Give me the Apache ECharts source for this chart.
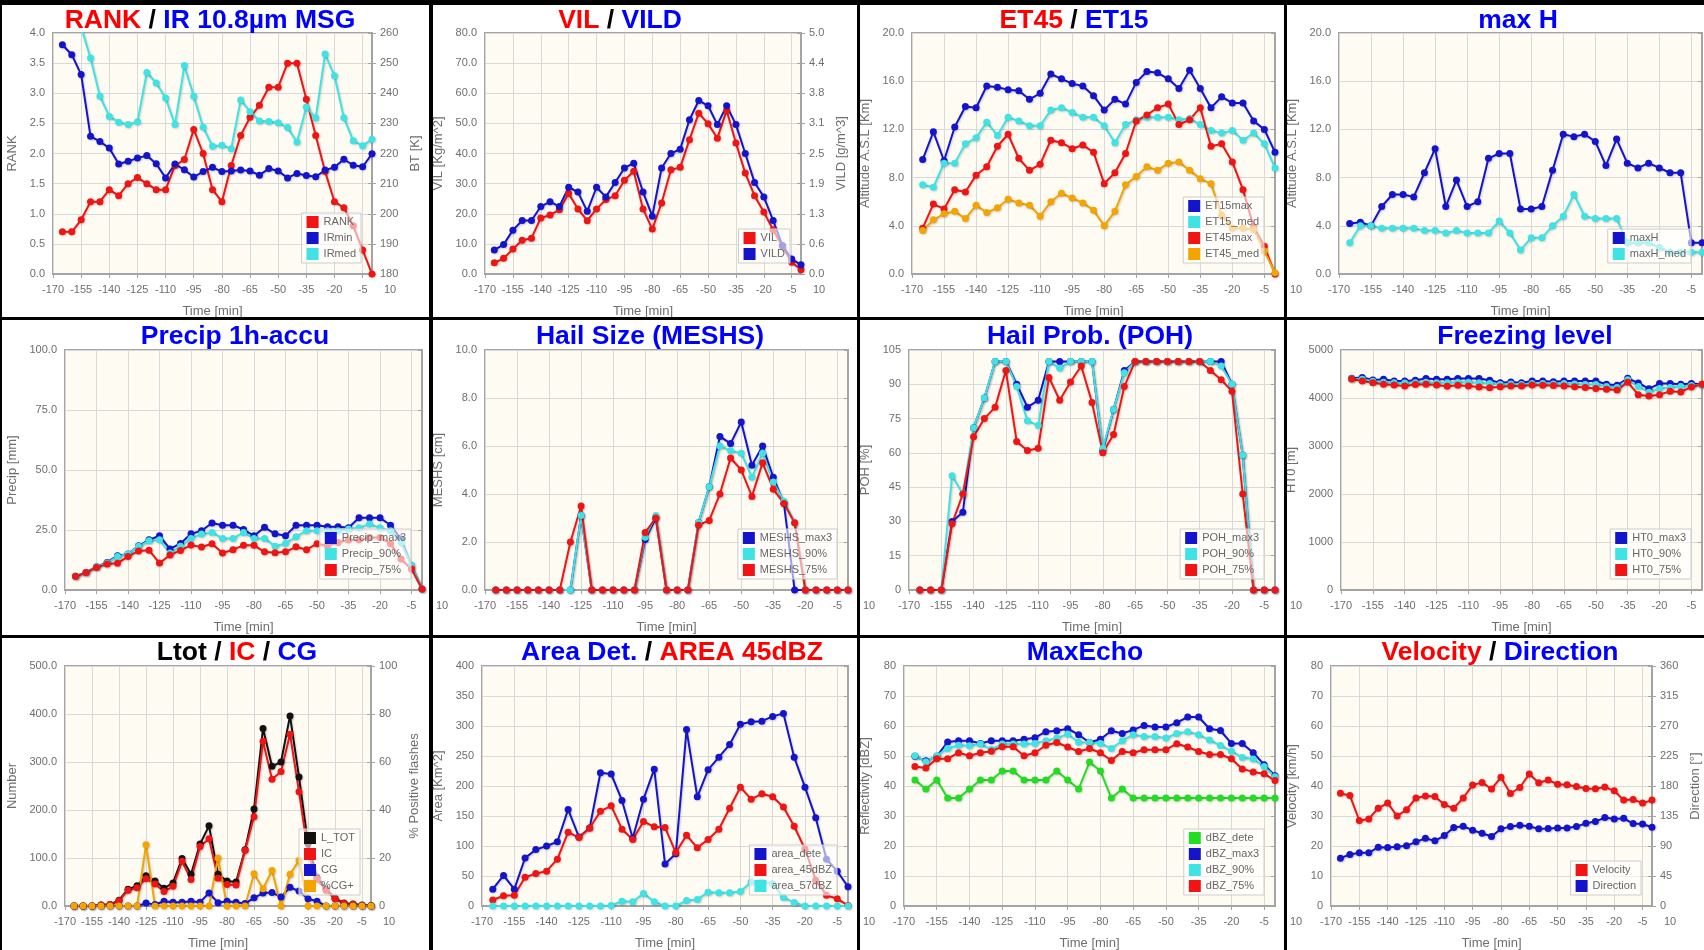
<!DOCTYPE html>
<html>
<head>
<meta charset="utf-8">
<script src="https://cdn.jsdelivr.net/npm/echarts@6/dist/echarts.min.js"></script>
<style>
  html, body { margin: 0; padding: 0; width: 1704px; height: 950px; overflow: hidden; background: #000; }
  .panel { position: absolute; background: #fff; }
</style>
</head>
<body>
<script>
// time axis (minutes before now), one sample every 5 min
const TIMES = [-165, -160, -155, -150, -145, -140, -135, -130, -125, -120, -115, -110, -105, -100, -95, -90, -85,
  -80, -75, -70, -65, -60, -55, -50, -45, -40, -35, -30, -25, -20, -15, -10, -5, 0];

// RANK / IR 10.8
const RANK = [0.7, 0.7, 0.9, 1.2, 1.2, 1.4, 1.3, 1.5, 1.6, 1.5, 1.4, 1.4, 1.8, 1.9, 2.4, 2.0, 1.4, 1.2, 1.8, 2.3, 2.6, 2.8, 3.1, 3.1, 3.5, 3.5, 2.9, 2.3, 1.7, 1.2, 1.1, 0.8, 0.4, 0.0];
const IR_MIN = [256.1, 252.8, 246.2, 225.7, 224.0, 221.8, 216.5, 217.4, 218.5, 219.3, 216.6, 211.9, 216.5, 214.6, 212.2, 214.0, 215.4, 214.0, 214.2, 214.5, 214.2, 212.8, 215.0, 214.2, 211.9, 213.4, 212.7, 212.3, 214.5, 215.4, 218.1, 216.1, 215.6, 219.9];
const IR_MED = [268, 265, 262, 251.7, 239.0, 232.3, 230.4, 229.6, 230.5, 246.9, 243.4, 238.4, 229.6, 249.2, 239.0, 228.7, 222.4, 222.7, 221.6, 237.8, 233.9, 230.8, 230.6, 230.2, 228.6, 223.8, 235.4, 231.8, 253.0, 245.8, 231.9, 224.2, 222.6, 224.7];

// VIL / VILD
const VIL = [3.7, 5.2, 8.3, 11.2, 11.9, 18.6, 19.6, 21.3, 26.7, 21.6, 17.7, 21.6, 24.7, 26.0, 31.1, 34.1, 21.6, 14.9, 23.6, 34.6, 35.4, 44.6, 53.4, 49.9, 45.1, 54.3, 43.5, 33.5, 26.0, 20.6, 14.7, 9.2, 3.9, 1.4];
const VILD = [0.50, 0.61, 0.91, 1.11, 1.11, 1.40, 1.50, 1.40, 1.80, 1.70, 1.30, 1.80, 1.60, 1.90, 2.20, 2.30, 1.70, 1.20, 2.20, 2.50, 2.59, 3.20, 3.60, 3.49, 3.10, 3.49, 3.10, 2.50, 1.90, 1.60, 1.11, 0.59, 0.31, 0.19];

// echo tops
const ET15_MAX = [9.5, 11.8, 9.4, 12.2, 13.9, 13.8, 15.6, 15.5, 15.3, 15.2, 14.5, 15.0, 16.6, 16.2, 15.8, 15.6, 14.8, 13.6, 14.5, 14.1, 15.9, 16.8, 16.7, 16.2, 15.4, 16.9, 15.4, 13.8, 14.7, 14.2, 14.2, 12.7, 12.0, 10.1];
const ET15_MED = [7.4, 7.2, 9.2, 9.2, 10.8, 11.3, 12.6, 11.5, 13.0, 12.7, 12.3, 12.3, 13.6, 13.8, 13.4, 13.0, 13.0, 12.3, 10.9, 12.4, 12.8, 13.0, 13.0, 13.0, 12.8, 12.9, 12.4, 11.9, 11.7, 11.9, 11.1, 11.7, 10.8, 8.8];
const ET45_MAX = [3.8, 5.8, 5.4, 7.0, 6.8, 8.2, 8.9, 10.6, 11.6, 9.6, 8.6, 9.1, 11.1, 10.9, 10.4, 10.7, 10.1, 7.5, 8.4, 10.0, 12.7, 13.2, 13.8, 14.1, 12.4, 12.8, 13.8, 10.6, 10.8, 9.3, 7.0, 3.9, 2.3, 0.0];
const ET45_MED = [3.6, 4.5, 5.0, 5.2, 4.6, 5.7, 5.1, 5.5, 6.2, 5.9, 5.7, 4.8, 6.0, 6.7, 6.3, 5.9, 5.3, 4.0, 5.2, 7.4, 8.1, 8.9, 8.6, 9.2, 9.3, 8.6, 7.9, 7.5, 4.9, 3.8, 3.8, 3.7, 1.9, 0.1];

// max H
const MAXH = [4.2, 4.3, 4.0, 5.6, 6.6, 6.6, 6.4, 8.4, 10.4, 5.6, 7.8, 5.6, 6.0, 9.6, 10.0, 10.0, 5.4, 5.4, 5.6, 8.6, 11.6, 11.4, 11.6, 11.0, 9.0, 11.2, 9.2, 8.8, 9.2, 8.8, 8.4, 8.4, 2.6, 2.6];
const MAXH_MED = [2.6, 4.0, 4.0, 3.8, 3.8, 3.8, 3.8, 3.6, 3.6, 3.4, 3.6, 3.4, 3.4, 3.4, 4.4, 3.4, 2.0, 3.0, 3.0, 4.0, 4.8, 6.6, 4.8, 4.6, 4.6, 4.6, 2.6, 2.6, 2.6, 2.2, 1.8, 1.8, 1.8, 1.8];

// precip 1h
const PRECIP_MAX3 = [5.7, 7.3, 9.7, 11.5, 14.3, 15.0, 18.4, 20.9, 22.6, 17.1, 19.4, 23.4, 24.7, 27.9, 27.0, 27.0, 25.2, 22.6, 26.1, 23.4, 22.6, 27.0, 27.0, 27.0, 26.4, 26.4, 25.9, 30.1, 30.1, 30.1, 27.0, 21.2, 10.1, 0.4];
const PRECIP_90 = [5.7, 7.3, 9.7, 11.2, 14.0, 15.0, 18.2, 20.5, 20.9, 15.4, 18.2, 21.5, 23.3, 24.0, 21.5, 21.5, 24.0, 21.5, 21.5, 18.2, 19.4, 22.2, 24.7, 24.7, 24.7, 24.7, 25.4, 25.9, 27.5, 25.9, 24.7, 19.8, 10.1, 0.4];
const PRECIP_75 = [5.7, 7.3, 9.4, 10.8, 11.1, 14.0, 16.2, 16.6, 11.2, 14.6, 16.5, 18.7, 17.9, 19.3, 15.4, 16.8, 18.6, 18.6, 15.9, 15.5, 15.9, 18.0, 16.8, 19.3, 18.4, 19.8, 20.8, 20.9, 21.9, 21.9, 19.3, 12.9, 8.7, 0.4];

// hail size
const MESHS_MAX3 = [0, 0, 0, 0, 0, 0, 0, 0, 3.1, 0, 0, 0, 0, 0, 2.1, 3.0, 0, 0, 0, 2.8, 4.3, 6.4, 6.1, 7.0, 5.2, 6.0, 4.7, 3.6, 0, 0, 0, 0, 0, 0];
const MESHS_90 = [0, 0, 0, 0, 0, 0, 0, 0, 3.1, 0, 0, 0, 0, 0, 2.2, 3.1, 0, 0, 0, 2.8, 4.3, 6.0, 5.8, 5.7, 4.7, 5.7, 4.5, 3.7, 2.8, 0, 0, 0, 0, 0];
const MESHS_75 = [0, 0, 0, 0, 0, 0, 0, 2.0, 3.5, 0, 0, 0, 0, 0, 2.4, 3.0, 0, 0, 0, 2.7, 2.9, 4.0, 5.5, 5.0, 3.9, 5.3, 4.2, 3.6, 2.8, 0, 0, 0, 0, 0];

// hail probability
const POH_MAX3 = [0, 0, 0, 30, 34, 71, 84, 100, 100, 90, 80, 83, 100, 100, 100, 100, 100, 61, 79, 96, 100, 100, 100, 100, 100, 100, 100, 100, 100, 90, 59, 0, 0, 0];
const POH_90 = [0, 0, 0, 50, 42, 71, 84, 100, 100, 89, 74, 72, 100, 97, 100, 100, 100, 62, 79, 95, 100, 100, 100, 100, 100, 100, 100, 100, 98, 90, 59, 0, 0, 0];
const POH_75 = [0, 0, 0, 29, 42, 67, 75, 80, 96, 65, 61, 62, 93, 83, 91, 98, 82, 60, 68, 89, 100, 100, 100, 100, 100, 100, 100, 96, 92, 87, 42, 0, 0, 0];

// freezing level
const HT0_MAX3 = [4410, 4425, 4375, 4390, 4355, 4355, 4370, 4405, 4390, 4390, 4405, 4405, 4405, 4370, 4320, 4335, 4320, 4355, 4355, 4340, 4355, 4355, 4355, 4355, 4285, 4265, 4410, 4315, 4195, 4300, 4300, 4285, 4300, 4285];
const HT0_90 = [4400, 4390, 4350, 4330, 4320, 4310, 4320, 4330, 4320, 4320, 4330, 4330, 4320, 4300, 4280, 4290, 4280, 4300, 4300, 4290, 4300, 4290, 4280, 4280, 4240, 4220, 4380, 4240, 4120, 4200, 4220, 4240, 4260, 4270];
const HT0_75 = [4395, 4355, 4320, 4285, 4270, 4250, 4280, 4285, 4270, 4245, 4265, 4250, 4230, 4215, 4235, 4250, 4250, 4270, 4265, 4260, 4250, 4235, 4220, 4200, 4180, 4165, 4330, 4070, 4040, 4070, 4140, 4125, 4230, 4285];

// lightning
const L_TOT = [0, 0, 0, 2, 3, 12, 35, 42, 63, 52, 37, 48, 99, 66, 129, 167, 66, 52, 50, 117, 202, 370, 291, 300, 396, 269, 130, 60, 35, 16, 6, 4, 2, 1];
const IC = [0, 0, 0, 2, 3, 11, 33, 38, 57, 46, 30, 41, 93, 55, 124, 140, 58, 45, 44, 116, 186, 343, 264, 280, 358, 238, 110, 55, 33, 15, 5, 3, 1, 0];
const CG = [0, 0, 0, 0, 0, 0, 0, 0, 6, 3, 10, 8, 8, 10, 8, 27, 7, 10, 8, 5, 17, 27, 28, 19, 39, 31, 15, 10, 0, 0, 0, 0, 0, 0];
const PCT_CG_POS = [0, 0, 0, 0, 0, 0, 0, 0, 25.5, 0, 0, 0, 0, 0, 0, 0, 20, 0, 0, 0, 13.4, 7.2, 14.8, 0, 13.2, 19, 0, 0, 0, 0, 0, 0, 0, 0];

// areas
const AREA_DETE = [28, 51, 28, 80, 94, 100, 107, 161, 115, 130, 222, 220, 176, 113, 178, 228, 70, 87, 294, 182, 227, 248, 269, 303, 307, 308, 316, 321, 248, 198, 147, 78, 58, 32];
const AREA_45 = [10, 17, 18, 48, 54, 58, 78, 123, 114, 130, 158, 167, 128, 111, 141, 132, 131, 89, 118, 97, 111, 128, 163, 198, 178, 187, 182, 165, 133, 95, 43, 18, 12, 1];
const AREA_57 = [0, 0, 0, 0, 0, 0, 0, 0, 0, 0, 0, 1, 8, 7, 21, 7, 0, 0, 9, 11, 23, 22, 22, 24, 40, 40, 37, 14, 6, 0, 0, 0, 0, 0];

// max echo
const DBZ_DETE = [42, 39, 42, 36, 36, 39, 42, 42, 45, 45, 42, 42, 42, 45, 42, 39, 48, 45, 36, 39, 36, 36, 36, 36, 36, 36, 36, 36, 36, 36, 36, 36, 36, 36];
const DBZ_MAX3 = [49.9, 48.4, 49.9, 54.7, 55.1, 55.1, 54.2, 55.1, 55.1, 55.1, 55.6, 56.1, 58.1, 58.4, 59.1, 57.1, 54.5, 55.6, 58.4, 57.5, 58.7, 60.2, 59.7, 59.7, 61.1, 63.0, 63.0, 59.1, 58.5, 54.2, 54.2, 51.1, 47.1, 43.4];
const DBZ_90 = [50.1, 48.1, 50.1, 52.5, 53.6, 53.4, 54.0, 52.2, 54.0, 54.0, 54.0, 54.2, 55.1, 56.0, 57.3, 54.6, 54.5, 54.2, 52.5, 55.1, 57.1, 56.5, 56.5, 56.0, 57.5, 58.1, 57.1, 55.3, 53.5, 51.6, 49.5, 49.0, 46.5, 43.1];
const DBZ_75 = [46.5, 46.0, 49.1, 49.1, 51.1, 50.1, 51.1, 51.6, 53.1, 53.1, 50.1, 51.1, 53.6, 54.5, 53.0, 51.5, 52.5, 51.1, 48.5, 51.5, 51.1, 52.1, 52.1, 52.1, 54.1, 53.0, 51.5, 50.5, 50.5, 49.1, 45.7, 44.7, 44.1, 41.8];

// motion
const VELOCITY = [37.6, 36.8, 28.5, 29.0, 32.6, 34.3, 30.0, 32.1, 36.0, 36.7, 36.5, 33.8, 32.6, 36.0, 40.3, 41.2, 39.0, 42.9, 37.5, 39.5, 44.0, 41.1, 42.0, 40.6, 40.4, 39.8, 39.2, 39.1, 39.7, 38.4, 35.3, 35.5, 34.3, 35.3];
const DIRECTION = [71.8, 77.3, 79.8, 79.8, 88.2, 87.7, 88.7, 90.2, 96.2, 101.7, 97.7, 105.7, 117.6, 119.6, 113.7, 109.2, 104.2, 115.7, 119.1, 121.1, 119.6, 115.7, 116.2, 117.1, 117.1, 119.1, 124.1, 126.6, 132.6, 130.6, 131.6, 123.6, 123.1, 118.1];

const FONT = '"Liberation Sans", Arial, sans-serif';
const RED = '#f01414';
const BLUE = '#1414cc';
const CYAN = '#3fe3e3';
const ORANGE = '#f4a400';
const GREEN = '#22dd22';
const BLACK = '#111111';
const T_RED = '#ff0000';
const T_BLUE = '#0000ff';
const T_BLACK = '#000000';
const LABEL = '#6e6e6e';
const PLOT_BG = '#fefcf2';
const AXIS = '#a4a4a4';

// panel boxes on the page
const COLS = [{ x: 2, w: 427 }, { x: 433, w: 424 }, { x: 860, w: 424 }, { x: 1287, w: 417 }];
const ROWS = [
  { y: 5, h: 312, top: 28, bottom: 43, titleTop: 2 },
  { y: 320, h: 315, top: 30, bottom: 45, titleTop: 3 },
  { y: 638, h: 312, top: 28, bottom: 44, titleTop: 1 },
];

const PANELS = [
  {
    row: 0, col: 0, left: 51, right: 57, titleX: 208,
    title: [['RANK', T_RED], [' / ', T_BLACK], ['IR 10.8µm MSG', T_BLUE]],
    y: { min: 0, max: 4, step: 0.5, dec: 1, name: 'RANK', gap: 34 },
    y2: { min: 180, max: 260, step: 10, dec: 0, name: 'BT [K]', gap: 34 },
    ten: ['right'],
    series: [
      { name: 'RANK', data: RANK, color: RED },
      { name: 'IRmin', data: IR_MIN, color: BLUE, right: true },
      { name: 'IRmed', data: IR_MED, color: CYAN, right: true },
    ],
  },
  {
    row: 0, col: 1, left: 52, right: 56, titleX: 187,
    title: [['VIL', T_RED], [' / ', T_BLACK], ['VILD', T_BLUE]],
    y: { min: 0, max: 80, step: 10, dec: 1, name: 'VIL [Kg/m^2]', gap: 39 },
    y2: { min: 0, max: 5, step: 0.625, dec: 1, name: 'VILD [g/m^3]', gap: 33 },
    ten: ['right'],
    series: [
      { name: 'VIL', data: VIL, color: RED },
      { name: 'VILD', data: VILD, color: BLUE, right: true },
    ],
  },
  {
    row: 0, col: 2, left: 52, right: 9, titleX: 214,
    title: [['ET45', T_RED], [' / ', T_BLACK], ['ET15', T_BLUE]],
    y: { min: 0, max: 20, step: 4, dec: 1, name: 'Altitude A.S.L [Km]', gap: 39 },
    ten: [],
    series: [
      { name: 'ET15max', data: ET15_MAX, color: BLUE },
      { name: 'ET15_med', data: ET15_MED, color: CYAN },
      { name: 'ET45max', data: ET45_MAX, color: RED },
      { name: 'ET45_med', data: ET45_MED, color: ORANGE },
    ],
  },
  {
    row: 0, col: 3, left: 52, right: 2, titleX: 231,
    title: [['max H', T_BLUE]],
    y: { min: 0, max: 20, step: 4, dec: 1, name: 'Altitude A.S.L [Km]', gap: 39 },
    ten: ['left'],
    series: [
      { name: 'maxH', data: MAXH, color: BLUE },
      { name: 'maxH_med', data: MAXH_MED, color: CYAN },
    ],
  },
  {
    row: 1, col: 0, left: 63, right: 7, titleX: 233,
    title: [['Precip 1h-accu', T_BLUE]],
    y: { min: 0, max: 100, step: 25, dec: 1, name: 'Precip [mm]', gap: 45 },
    ten: [],
    series: [
      { name: 'Precip_max3', data: PRECIP_MAX3, color: BLUE },
      { name: 'Precip_90%', data: PRECIP_90, color: CYAN },
      { name: 'Precip_75%', data: PRECIP_75, color: RED },
    ],
  },
  {
    row: 1, col: 1, left: 52, right: 9, titleX: 217,
    title: [['Hail Size (MESHS)', T_BLUE]],
    y: { min: 0, max: 10, step: 2, dec: 1, name: 'MESHS [cm]', gap: 39 },
    ten: ['left'],
    series: [
      { name: 'MESHS_max3', data: MESHS_MAX3, color: BLUE },
      { name: 'MESHS_90%', data: MESHS_90, color: CYAN },
      { name: 'MESHS_75%', data: MESHS_75, color: RED },
    ],
  },
  {
    row: 1, col: 2, left: 49, right: 9, titleX: 230,
    title: [['Hail Prob. (POH)', T_BLUE]],
    y: { min: 0, max: 105, step: 15, dec: 0, name: 'POH [%]', gap: 36 },
    ten: ['left'],
    series: [
      { name: 'POH_max3', data: POH_MAX3, color: BLUE },
      { name: 'POH_90%', data: POH_90, color: CYAN },
      { name: 'POH_75%', data: POH_75, color: RED },
    ],
  },
  {
    row: 1, col: 3, left: 54, right: 2, titleX: 238,
    title: [['Freezing level', T_BLUE]],
    y: { min: 0, max: 5000, step: 1000, dec: 0, name: 'HT0 [m]', gap: 41 },
    ten: ['left'],
    series: [
      { name: 'HT0_max3', data: HT0_MAX3, color: BLUE },
      { name: 'HT0_90%', data: HT0_90, color: CYAN },
      { name: 'HT0_75%', data: HT0_75, color: RED },
    ],
  },
  {
    row: 2, col: 0, left: 63, right: 58, titleX: 235,
    title: [['Ltot', T_BLACK], [' / ', T_BLACK], ['IC', T_RED], [' / ', T_BLACK], ['CG', T_BLUE]],
    y: { min: 0, max: 500, step: 100, dec: 1, name: 'Number', gap: 45 },
    y2: { min: 0, max: 100, step: 20, dec: 0, name: '% Positive flashes', gap: 35 },
    ten: ['right'],
    series: [
      { name: 'L_TOT', data: L_TOT, color: BLACK },
      { name: 'IC', data: IC, color: RED },
      { name: 'CG', data: CG, color: BLUE },
      { name: '%CG+', data: PCT_CG_POS, color: ORANGE, right: true },
    ],
  },
  {
    row: 2, col: 1, left: 49, right: 9, titleX: 239,
    title: [['Area Det.', T_BLUE], [' / ', T_BLACK], ['AREA 45dBZ', T_RED]],
    y: { min: 0, max: 400, step: 50, dec: 0, name: 'Area [Km^2]', gap: 36 },
    ten: [],
    series: [
      { name: 'area_dete', data: AREA_DETE, color: BLUE },
      { name: 'area_45dBZ', data: AREA_45, color: RED },
      { name: 'area_57dBZ', data: AREA_57, color: CYAN },
    ],
  },
  {
    row: 2, col: 2, left: 44, right: 9, titleX: 225,
    title: [['MaxEcho', T_BLUE]],
    y: { min: 0, max: 80, step: 10, dec: 0, name: 'Reflectivity [dBZ]', gap: 32 },
    ten: ['left'],
    series: [
      { name: 'dBZ_dete', data: DBZ_DETE, color: GREEN },
      { name: 'dBZ_max3', data: DBZ_MAX3, color: BLUE },
      { name: 'dBZ_90%', data: DBZ_90, color: CYAN },
      { name: 'dBZ_75%', data: DBZ_75, color: RED },
    ],
  },
  {
    row: 2, col: 3, left: 44, right: 52, titleX: 213,
    title: [['Velocity', T_RED], [' / ', T_BLACK], ['Direction', T_BLUE]],
    y: { min: 0, max: 80, step: 10, dec: 0, name: 'Velocity [km/h]', gap: 32 },
    y2: { min: 0, max: 360, step: 45, dec: 0, name: 'Direction [°]', gap: 35 },
    ten: ['left', 'right'],
    series: [
      { name: 'Velocity', data: VELOCITY, color: RED },
      { name: 'Direction', data: DIRECTION, color: BLUE, right: true },
    ],
  },
];

const makeYAxis = (cfg, position, primary) => ({
  type: 'value',
  position,
  min: cfg.min,
  max: cfg.max,
  interval: cfg.step,
  name: cfg.name,
  nameLocation: 'middle',
  nameRotate: 90,
  nameGap: cfg.gap,
  nameTextStyle: { color: LABEL, fontSize: 13, fontFamily: FONT },
  axisLine: { show: true, lineStyle: { color: AXIS, width: 2 } },
  axisTick: { show: true, length: 4, lineStyle: { color: AXIS } },
  axisLabel: { color: LABEL, fontSize: 11, fontFamily: FONT, margin: 8, formatter: v => v.toFixed(cfg.dec) },
  splitLine: { show: primary, lineStyle: { color: '#d9d9d9', width: 1 } },
});

const buildOption = (p, col, row) => {
  const plotBottom = row.h - row.bottom;
  const titleText = p.title.map((seg, i) => `{s${i}|${seg[0]}}`).join('');
  const rich = {};
  p.title.forEach((seg, i) => {
    rich['s' + i] = { color: seg[1], fontSize: 26.5, fontWeight: 'bold', fontFamily: FONT };
  });
  const yAxis = [makeYAxis(p.y, 'left', true)];
  if (p.y2) yAxis.push(makeYAxis(p.y2, 'right', false));

  // stray "10" tick label the original plotting tool leaves outside the plot
  const graphic = p.ten.map(side => ({
    type: 'text',
    silent: true,
    x: side === 'left' ? 9 : col.w - p.right + 18,
    y: plotBottom + 16,
    style: { text: '10', fill: LABEL, font: `11px ${FONT}`, align: 'center', verticalAlign: 'middle' },
  }));

  return {
    animation: false,
    title: {
      text: titleText,
      left: p.titleX,
      top: row.titleTop,
      padding: 0,
      textAlign: 'center',
      textStyle: { fontSize: 26.5, fontWeight: 'bold', fontFamily: FONT, rich },
    },
    grid: {
      left: p.left, right: p.right, top: row.top, bottom: row.bottom,
      outerBoundsMode: 'none',
      containLabel: false,
      show: true, backgroundColor: PLOT_BG, borderColor: AXIS, borderWidth: 2,
    },
    legend: {
      orient: 'vertical',
      right: p.right + 11,
      bottom: row.bottom + 11,
      icon: 'rect',
      itemWidth: 12,
      itemHeight: 12,
      itemGap: 4,
      padding: [3, 5, 3, 5],
      backgroundColor: 'rgba(255,255,255,0.6)',
      borderColor: '#cccccc',
      borderWidth: 1,
      textStyle: { color: '#666666', fontSize: 11, fontFamily: FONT },
      data: p.series.map(s => s.name),
    },
    xAxis: {
      type: 'value',
      min: -170,
      max: 0,
      interval: 15,
      name: 'Time [min]',
      nameLocation: 'middle',
      nameGap: 31,
      nameTextStyle: { color: LABEL, fontSize: 13, fontFamily: FONT },
      axisLine: { show: true, onZero: false, lineStyle: { color: AXIS, width: 2 } },
      axisTick: { show: true, length: 4, lineStyle: { color: AXIS } },
      axisLabel: { color: LABEL, fontSize: 11, fontFamily: FONT, margin: 10, showMaxLabel: false },
      splitLine: { show: true, lineStyle: { color: '#d9d9d9', width: 1 } },
    },
    yAxis,
    graphic,
    series: p.series.map(s => ({
      name: s.name,
      type: 'line',
      yAxisIndex: s.right ? 1 : 0,
      data: TIMES.map((t, i) => [t, s.data[i]]),
      symbol: 'circle',
      symbolSize: 7,
      showSymbol: true,
      clip: true,
      lineStyle: { width: 2, color: s.color, shadowColor: 'rgba(0,0,0,0.18)', shadowBlur: 2, shadowOffsetX: 1, shadowOffsetY: 1 },
      itemStyle: { color: s.color, shadowColor: 'rgba(0,0,0,0.18)', shadowBlur: 2, shadowOffsetX: 1, shadowOffsetY: 1 },
      emphasis: { disabled: true },
    })),
  };
};

PANELS.forEach(p => {
  const col = COLS[p.col];
  const row = ROWS[p.row];
  const el = document.createElement('div');
  el.className = 'panel';
  el.style.left = col.x + 'px';
  el.style.top = row.y + 'px';
  el.style.width = col.w + 'px';
  el.style.height = row.h + 'px';
  document.body.appendChild(el);
  const chart = echarts.init(el);
  chart.setOption(buildOption(p, col, row));
});
</script>
</body>
</html>
